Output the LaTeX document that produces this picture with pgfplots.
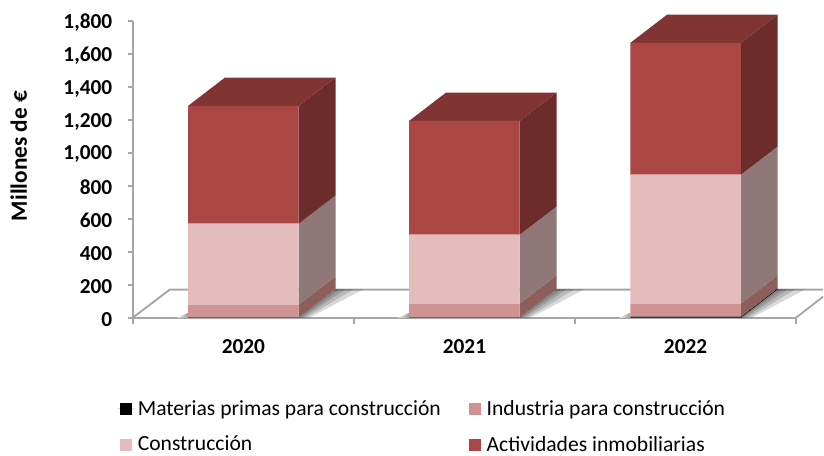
\documentclass[border=0pt]{standalone}
\usepackage{pgfplots}
\pgfplotsset{compat=1.18}
\usepackage{fontspec}
\setmainfont{Carlito}
\definecolor{matcol}{HTML}{000000}
\definecolor{indcol}{HTML}{D09393}
\definecolor{concol}{HTML}{E3BDBD}
\definecolor{actcol}{HTML}{AA4643}
\definecolor{indside}{HTML}{8C5E5C}
\definecolor{conside}{HTML}{8F7877}
\definecolor{actside}{HTML}{6B2C2A}
\definecolor{acttop}{HTML}{813533}
\definecolor{floorgray}{HTML}{A6A6A6}
% 1 px of the reference = 0.75pt
\pgfplotsset{
    base/.style={
        scale only axis,
        width=498pt,
        height=222.75pt,
        xmin=0, xmax=3,
        ymin=0, ymax=1800,
        clip=false,
    },
    shadow/.style={draw=none, fill=black, fill opacity=0.15},
}
\begin{document}
\begin{tikzpicture}
\begin{axis}[
    base,
    axis lines=left,
    axis line style={-, draw=floorgray, line width=1.4pt},
    xtick={0.5,1.5,2.5},
    xticklabels={2020,2021,2022},
    minor xtick={0,1,2,3},
    major x tick style={draw=none},
    minor x tick style={draw=floorgray, line width=1.4pt},
    minor tick length=5pt,
    ytick={0,200,...,1800},
    y tick style={draw=floorgray, line width=1.4pt},
    major tick length=4pt,
    tick align=outside,
    /pgf/number format/assume math mode=true,
    /pgf/number format/1000 sep={,},
    tick label style={font=\fontsize{16}{16}\selectfont\bfseries, text=black},
    xticklabel style={yshift=-9pt},
    yticklabel style={xshift=-8pt, yshift=-1.2pt},
    ylabel={Millones de €},
    ylabel style={font=\fontsize{17.5}{17.5}\selectfont\bfseries, at={(rel axis cs:-0.172,0.545)}, anchor=center},
]
% floor outline
\addplot[draw=floorgray, line width=1.4pt] coordinates {(0,0) (0.167,170) (3.122,170)};
\addplot[draw=floorgray, line width=1.4pt] coordinates {(3,0) (3.122,127)};
% shadows right of the bars, four bands each
\addplot[shadow] coordinates {(0.75,0) (0.917,172) (0.937,172) (0.76,0)};
\addplot[shadow] coordinates {(0.75,0) (0.917,172) (0.962,172) (0.77,0)};
\addplot[shadow] coordinates {(0.75,0) (0.917,172) (0.997,172) (0.785,0)};
\addplot[shadow] coordinates {(0.75,0) (0.917,172) (1.042,172) (0.80,0)};
\addplot[shadow] coordinates {(1.75,0) (1.917,172) (1.937,172) (1.76,0)};
\addplot[shadow] coordinates {(1.75,0) (1.917,172) (1.962,172) (1.77,0)};
\addplot[shadow] coordinates {(1.75,0) (1.917,172) (1.997,172) (1.785,0)};
\addplot[shadow] coordinates {(1.75,0) (1.917,172) (2.042,172) (1.80,0)};
\addplot[shadow] coordinates {(2.75,0) (2.917,172) (2.937,172) (2.76,0)};
\addplot[shadow] coordinates {(2.75,0) (2.917,172) (2.962,172) (2.77,0)};
\addplot[shadow] coordinates {(2.75,0) (2.917,172) (2.997,172) (2.785,0)};
\addplot[shadow] coordinates {(2.75,0) (2.917,172) (3.042,172) (2.80,0)};
% shadows left of the bars
\addplot[draw=none, left color=white, right color=black!40] coordinates {(0.20,0) (0.25,30) (0.25,0)};
\addplot[draw=none, left color=white, right color=black!40] coordinates {(1.20,0) (1.25,30) (1.25,0)};
\addplot[draw=none, left color=white, right color=black!40] coordinates {(2.20,0) (2.25,30) (2.25,0)};
% 2020 side and top
\addplot[fill=indside, draw=none] coordinates {(0.75,0) (0.917,172) (0.917,251) (0.75,79)};
\addplot[fill=conside, draw=none] coordinates {(0.75,79) (0.917,251) (0.917,742) (0.75,570)};
\addplot[fill=actside, draw=none] coordinates {(0.75,570) (0.917,742) (0.917,1457) (0.75,1285)};
\addplot[fill=acttop, draw=none] coordinates {(0.25,1285) (0.417,1457) (0.917,1457) (0.75,1285)};
% 2021 side and top
\addplot[fill=indside, draw=none] coordinates {(1.75,0) (1.917,172) (1.917,257) (1.75,85)};
\addplot[fill=conside, draw=none] coordinates {(1.75,85) (1.917,257) (1.917,675) (1.75,503)};
\addplot[fill=actside, draw=none] coordinates {(1.75,503) (1.917,675) (1.917,1366) (1.75,1194)};
\addplot[fill=acttop, draw=none] coordinates {(1.25,1194) (1.417,1366) (1.917,1366) (1.75,1194)};
% 2022 side and top
\addplot[fill=black, draw=none] coordinates {(2.75,0) (2.917,172) (2.917,178) (2.75,6)};
\addplot[fill=indside, draw=none] coordinates {(2.75,6) (2.917,178) (2.917,257) (2.75,85)};
\addplot[fill=conside, draw=none] coordinates {(2.75,85) (2.917,257) (2.917,1039) (2.75,867)};
\addplot[fill=actside, draw=none] coordinates {(2.75,867) (2.917,1039) (2.917,1839) (2.75,1667)};
\addplot[fill=acttop, draw=none] coordinates {(2.25,1667) (2.417,1839) (2.917,1839) (2.75,1667)};
\end{axis}

\begin{axis}[
    base,
    hide axis,
    ybar stacked,
    bar width=0.5,
    legend columns=2,
    legend cell align=left,
    legend style={
        at={(rel axis cs:-0.0226,-0.27)}, anchor=north west,
        draw=none, fill=none, inner sep=0pt, outer sep=0pt,
        font=\fontsize{16.2}{16.2}\selectfont,
        /tikz/every even column/.append style={column sep=17.5pt},
        row sep=10pt,
    },
    legend image code/.code={
        \fill[#1] (1.5pt,-4.5pt) rectangle (10.5pt,4.5pt);
        \path (0pt,0pt) -- (13pt,0pt);
    },
]
\addplot[fill=matcol, draw=none] coordinates {(0.5,1) (1.5,1) (2.5,6)};
\addlegendentry{Materias primas para construcción}
\addplot[fill=indcol, draw=none] coordinates {(0.5,78) (1.5,84) (2.5,79)};
\addlegendentry{Industria para construcción}
\addplot[fill=concol, draw=none] coordinates {(0.5,491) (1.5,418) (2.5,782)};
\addlegendentry{Construcción}
\addplot[fill=actcol, draw=none] coordinates {(0.5,715) (1.5,691) (2.5,800)};
\addlegendentry{Actividades inmobiliarias}
\end{axis}
\path[use as bounding box] (-99.75pt,-101.25pt) rectangle (518.25pt,238.5pt);
\end{tikzpicture}
\end{document}
